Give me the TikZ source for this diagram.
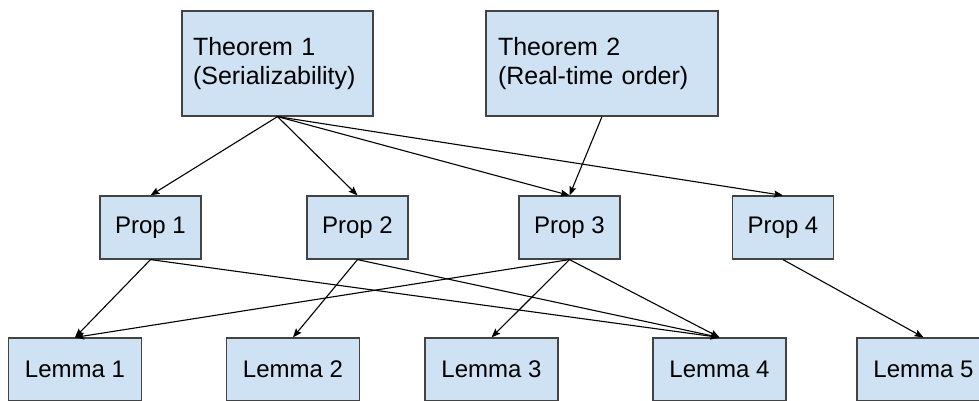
\documentclass[tikz,border=0pt]{standalone}
\usepackage{fontspec}
\setmainfont{Liberation Sans}
\usetikzlibrary{arrows.meta}
\definecolor{boxfill}{HTML}{CFE2F3}
\definecolor{boxline}{HTML}{434343}
\begin{document}
\begin{tikzpicture}[x=1pt,y=-1pt,
  every node/.style={font=\fontsize{24}{28.8}\selectfont},
  thm/.style={draw=boxline, fill=boxfill, line width=1.2pt, rectangle, minimum height=105pt, inner xsep=12pt, align=left, font=\fontsize{25}{29.5}\selectfont},
  prop/.style={draw=boxline, fill=boxfill, line width=1.2pt, rectangle, minimum width=101pt, minimum height=63pt, inner sep=0pt},
  lem/.style={draw=boxline, fill=boxfill, line width=1.2pt, rectangle, minimum width=133pt, minimum height=63pt, inner sep=0pt},
  conn/.style={draw=black, line width=1.1pt, -{Stealth[length=9pt,width=7pt,inset=1.5pt]}}
]
\useasboundingbox (0,0) rectangle (979,400);
\clip (0,0) rectangle (979,400);
\node[thm, text width=169pt, inner xsep=11pt] (t1) at (277.5,63.5) {Theorem 1\\(Serializability)};
\node[thm, text width=208pt] (t2) at (602,63.5) {Theorem 2\\(Real-time order)};
\node[prop] (p1) at (150.5,227.5) {Prop 1};
\node[prop] (p2) at (357.5,227.5) {Prop 2};
\node[prop] (p3) at (569.5,227.5) {Prop 3};
\node[prop] (p4) at (783,227.5) {Prop 4};
\node[lem] (l1) at (75,369.5) {Lemma 1};
\node[lem] (l2) at (293,369.5) {Lemma 2};
\node[lem] (l3) at (491.5,369.5) {Lemma 3};
\node[lem] (l4) at (719.5,369.5) {Lemma 4};
\node[lem] (l5) at (923.5,369.5) {Lemma 5};
\draw[conn] (t1.south) -- (p1.north);
\draw[conn] (t1.south) -- (p2.north);
\draw[conn] (t1.south) -- (p3.north);
\draw[conn] (t1.south) -- (p4.north);
\draw[conn] (t2.south) -- (p3.north);
\draw[conn] (p1.south) -- (l1.north);
\draw[conn] (p1.south) -- (l4.north);
\draw[conn] (p2.south) -- (l2.north);
\draw[conn] (p2.south) -- (l4.north);
\draw[conn] (p3.south) -- (l1.north);
\draw[conn] (p3.south) -- (l3.north);
\draw[conn] (p3.south) -- (l4.north);
\draw[conn] (p4.south) -- (l5.north);
\end{tikzpicture}
\end{document}
